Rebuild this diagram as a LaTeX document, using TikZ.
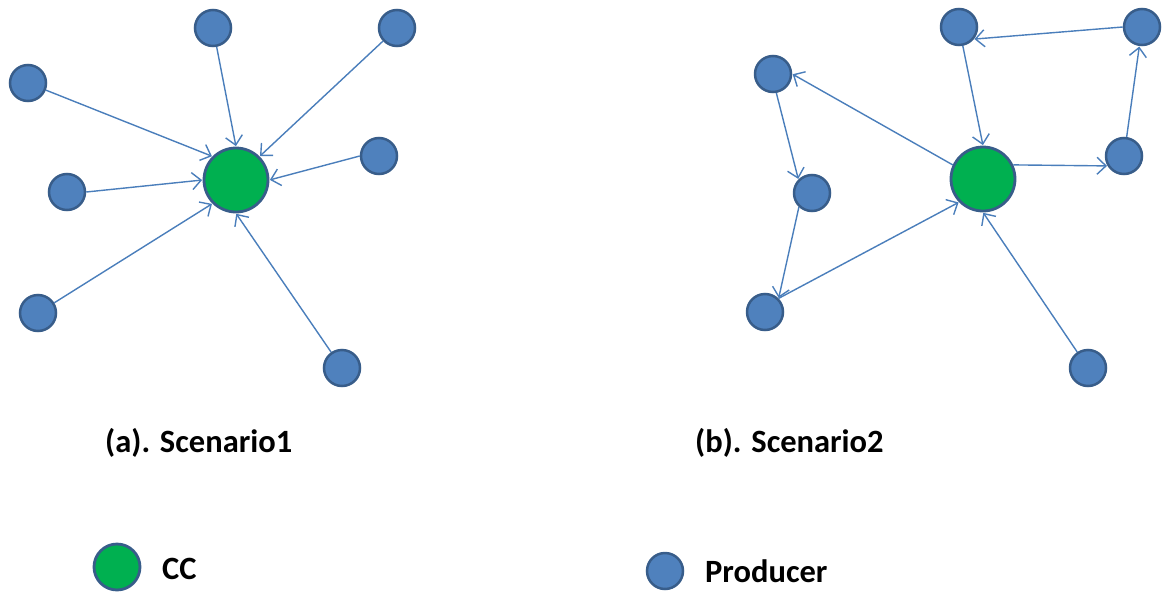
\documentclass[tikz,border=0pt]{standalone}
\usepackage{fontspec}
\setmainfont{Carlito}
\usetikzlibrary{arrows.meta}
\definecolor{prodfill}{HTML}{4F81BD}
\definecolor{ringcol}{HTML}{385D8A}
\definecolor{ccfill}{HTML}{00B050}
\definecolor{edgecol}{HTML}{4A7EBB}
\tikzset{
  producer/.style={circle, fill=prodfill, draw=ringcol, line width=2.5pt, minimum size=36pt, inner sep=0pt},
  cc/.style={circle, fill=ccfill, draw=ringcol, line width=2.8pt, minimum size=64pt, inner sep=0pt},
  flow/.style={draw=edgecol, line width=1.4pt, -{Straight Barb[length=9pt,width=17pt,line width=1.4pt]}, shorten >=0.5pt},
  caption/.style={font=\bfseries\fontsize{32.5}{39}\selectfont, anchor=west, inner sep=0pt}
}
\begin{document}
\begin{tikzpicture}[x=1pt,y=-1pt]
\useasboundingbox (0,0) rectangle (1163,592);

% ---- Scenario 1: every producer reports straight to CC
\node[cc] (ca) at (236,180) {};
\node[producer] (a1) at (213,28) {};
\node[producer] (a2) at (397,28) {};
\node[producer] (a3) at (28,83) {};
\node[producer] (a4) at (379,156) {};
\node[producer] (a5) at (67,192) {};
\node[producer] (a6) at (38,313) {};
\node[producer] (a7) at (342,368) {};
\draw[flow] (a1) -- (ca.north);
\draw[flow] (a2) -- (ca.45);
\draw[flow] (a3) -- (ca.135);
\draw[flow] (a4.west) -- (ca.east);
\draw[flow] (a5.east) -- (ca.west);
\draw[flow] (a6) -- (ca.225);
\draw[flow] (a7) -- (ca.south);

% ---- Scenario 2: producers relay through each other
\node[cc] (cb) at (983,179) {};
\node[producer] (b1) at (959,27) {};
\node[producer] (b2) at (1142,27) {};
\node[producer] (b3) at (773,74) {};
\node[producer] (b4) at (1124,156) {};
\node[producer] (b5) at (812,193) {};
\node[producer] (b6) at (765,312) {};
\node[producer] (b7) at (1088,368) {};
\draw[flow] (b1) -- (cb.north);
\draw[flow] (b2.west) -- (b1.-39);
\draw[flow] (b4) -- (b2);
\draw[flow] (cb.25) -- (b4.211);
\draw[flow] (cb.155) -- (b3.east);
\draw[flow] (b3.-80) -- (b5.135);
\draw[flow] (b5.227) -- (b6.45);
\draw[flow] (b6.45) -- (cb.224);
\draw[flow] (b7) -- (cb.south);

% ---- captions
\node[caption] (la) at (105,443) {(a). Scenario1};
\node[caption] (lb) at (695,443) {(b). Scenario2};

% ---- legend
\node[cc, minimum size=46pt] (kc) at (117,567) {};
\node[caption] (kct) at (162,569) {CC};
\node[producer] (kp) at (665,571) {};
\node[caption] (kpt) at (705,571) {Producer};
\end{tikzpicture}
\end{document}
